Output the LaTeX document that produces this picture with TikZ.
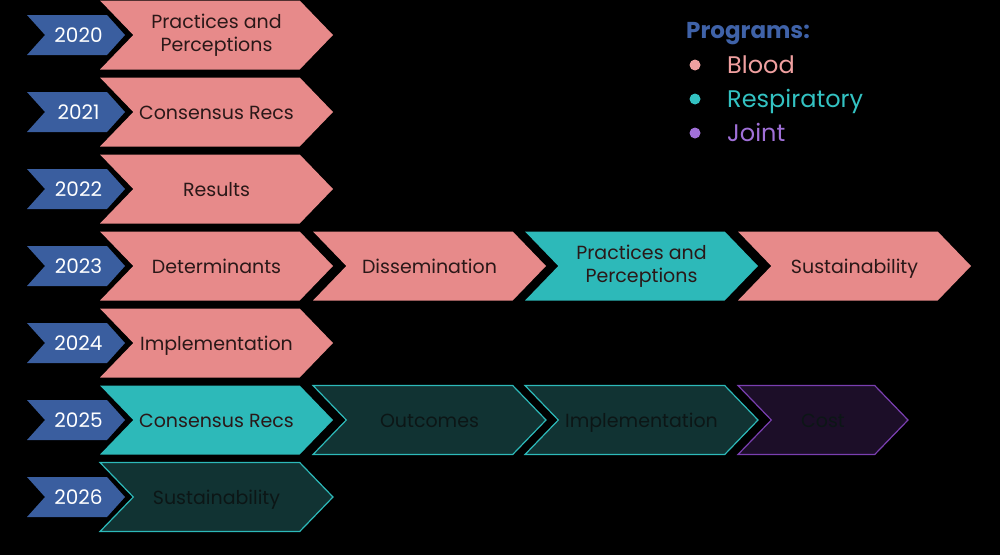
\documentclass[tikz,border=0pt]{standalone}
\usepackage{fontspec}
\setmainfont{Poppins}
\usetikzlibrary{shapes.symbols}
\definecolor{bloodc}{HTML}{E78A8A}
\definecolor{respc}{HTML}{2DB9B9}
\definecolor{darkresp}{HTML}{113333}
\definecolor{darkjoint}{HTML}{1C0E28}
\definecolor{jointline}{HTML}{7A3FB0}
\definecolor{yearc}{HTML}{3A5E9F}
\definecolor{progc}{HTML}{3F62A8}
\definecolor{legblood}{HTML}{F0A0A0}
\definecolor{legresp}{HTML}{33C2C2}
\definecolor{legjoint}{HTML}{A070D8}
\definecolor{txtdark}{HTML}{2A1818}
\definecolor{txtdeep}{HTML}{0C1616}
\newcommand{\cstrut}{\rule[-5pt]{0pt}{24pt}}
\tikzset{
  chev/.style={shape=signal, signal from=west, signal to=east, signal pointer angle=92,
    minimum width=233pt, minimum height=69pt, inner sep=0pt, outer sep=0pt, align=center,
    font=\fontsize{19}{21}\selectfont, text=txtdark},
  blood/.style={chev, fill=bloodc},
  resp/.style={chev, fill=respc},
  dresp/.style={chev, fill=darkresp, draw=respc, line width=1.2pt, text=txtdeep},
  djoint/.style={chev, fill=darkjoint, draw=jointline, line width=1.2pt, text=txtdeep},
  yearbox/.style={shape=signal, signal from=west, signal to=east, signal pointer angle=96,
    minimum width=98pt, minimum height=40pt, inner sep=0pt, fill=yearc, text=white,
    font=\fontsize{20}{22}\selectfont},
  legtxt/.style={anchor=base west, font=\fontsize{24}{26}\selectfont, inner sep=0pt},
  legdot/.style={circle, minimum size=11pt, inner sep=0pt}
}
\begin{document}
\begin{tikzpicture}[x=1pt, y=-1pt]
\fill[black] (0,0) rectangle (1000,555);
\useasboundingbox (0,0) rectangle (1000,555);
% years
\foreach \yr/\yy in {2020/35,2021/112,2022/189,2023/266,2024/343,2025/420,2026/497}{
  \node[yearbox] (y\yr) at (76,\yy) {\hspace*{5pt}\cstrut\yr};
}
% rows 2020-2024
\node[blood] (a20) at (216.5,35) {Practices and\\[2pt]Perceptions};
\node[blood] (a21) at (216.5,112) {\cstrut Consensus Recs};
\node[blood] (a22) at (216.5,189) {\cstrut Results};
\node[blood] (a23) at (216.5,266) {\cstrut Determinants};
\node[blood] (b23) at (429.5,266) {\cstrut Dissemination};
\node[resp] (c23) at (641.5,266) {Practices and\\[2pt]Perceptions};
\node[blood] (d23) at (854.5,266) {\cstrut Sustainability};
\node[blood] (a24) at (216.5,343) {\cstrut Implementation};
% row 2025
\node[resp] (a25) at (216.5,420) {\cstrut Consensus Recs};
\node[dresp] (b25) at (429.5,420) {\cstrut Outcomes};
\node[dresp] (c25) at (641.5,420) {\cstrut Implementation};
\node[djoint, minimum width=170pt] (d25) at (823,420) {\cstrut Cost};
% row 2026
\node[dresp] (a26) at (216.5,497) {\cstrut Sustainability};
% legend
\node[anchor=base west, inner sep=0pt, text=progc, font=\bfseries\fontsize{23}{26}\selectfont] (lt) at (686,38) {Programs:};
\node[legdot, fill=legblood] (d1) at (695,65) {};
\node[legtxt, text=legblood] (l1) at (727,73) {Blood};
\node[legdot, fill=legresp] (d2) at (695,99) {};
\node[legtxt, text=legresp] (l2) at (727,107) {Respiratory};
\node[legdot, fill=legjoint] (d3) at (695,133) {};
\node[legtxt, text=legjoint] (l3) at (727,141) {Joint};
\end{tikzpicture}
\end{document}
